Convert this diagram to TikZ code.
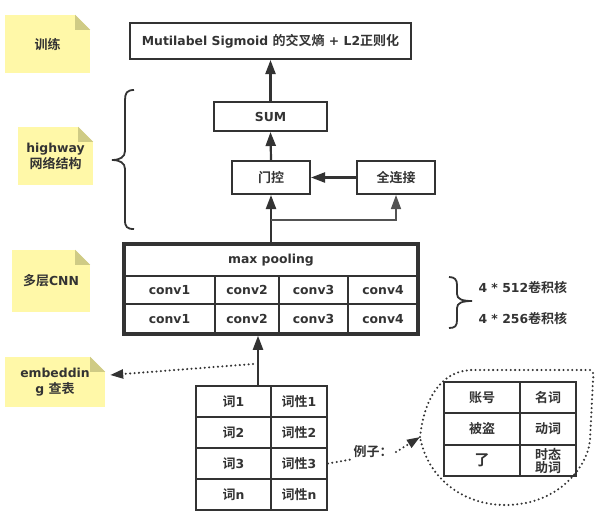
\documentclass[tikz,border=0pt]{standalone}
\usepackage{fontspec}
\setmainfont{DejaVu Sans}
\newfontfamily\cjk{Noto Sans CJK SC}[BoldFont={* Bold}]
\newcommand\zh[1]{{\cjk\fontsize{13}{16}\selectfont #1}}
\usetikzlibrary{arrows.meta}
\definecolor{ink}{HTML}{333333}
\definecolor{noteY}{HTML}{FFF8A8}
\definecolor{noteF}{HTML}{CFCB85}
\tikzset{
  txt/.style={text=ink, font=\fontsize{12.4}{16}\selectfont\bfseries, align=center},
  box/.style={txt, draw=ink, line width=2pt, fill=white, inner sep=0pt},
  cell/.style={txt, draw=ink, line width=2pt, inner sep=0pt},
  note/.style={txt, fill=noteY, inner sep=0pt},
  arr/.style={draw=ink, line width=2.2pt, -{Triangle[length=14pt,width=10pt]}},
  branch/.style={draw=ink!85, line width=1.5pt, -{Triangle[length=14pt,width=10pt]}},
  dots/.style={draw=ink, line width=2.3pt, dash pattern=on 0pt off 4.4pt, line cap=round},
  dotarr/.style={dots, -{Triangle[length=13pt,width=9pt]}},
  brace/.style={draw=ink, line width=1.8pt},
}
\newcommand\fold[1]{%
  \fill[white] (#1.north east) -- ++(-15,0) -- ++(15,15) -- cycle;
  \fill[noteF] (#1.north east) ++(-15,0) -- ++(15,15) -- ++(-15,0) -- cycle;}
\begin{document}
\begin{tikzpicture}[x=1pt,y=-1pt]
\useasboundingbox[fill=white] (0,0) rectangle (607,523);

% notes
\node[note, minimum width=85, minimum height=58] (ntrain) at (47.5,44) {\zh{训练}};
\fold{ntrain}
\node[note, minimum width=75, minimum height=58] (nhw) at (55.5,156) {highway\\\zh{网络结构}};
\fold{nhw}
\node[note, minimum width=78, minimum height=62] (ncnn) at (51,281) {\zh{多层}CNN};
\fold{ncnn}
\node[note, minimum width=100, minimum height=50] (emb) at (55,382) {embeddin\\g \zh{查表}};
\fold{emb}

% upper boxes
\node[box, minimum width=281, minimum height=36] (top) at (270.5,41) {Mutilabel Sigmoid \zh{的交叉熵} + L2\zh{正则化}};
\node[box, minimum width=113, minimum height=29] (sum) at (270.5,116.5) {SUM};
\node[box, minimum width=78, minimum height=33] (gate) at (271,177.5) {\zh{门控}};
\node[box, minimum width=78, minimum height=33] (fc) at (396,177.5) {\zh{全连接}};

% CNN table
\node[cell, minimum width=294, minimum height=32] (p) at (271,260) {max pooling};
\node[cell, minimum width=91, minimum height=28] (a1) at (169.5,290) {conv1};
\node[cell, minimum width=64, minimum height=28] (a2) at (247,290) {conv2};
\node[cell, minimum width=69, minimum height=28] (a3) at (313.5,290) {conv3};
\node[cell, minimum width=70, minimum height=28] (a4) at (383,290) {conv4};
\node[cell, minimum width=91, minimum height=30] (b1) at (169.5,319) {conv1};
\node[cell, minimum width=64, minimum height=30] (b2) at (247,319) {conv2};
\node[cell, minimum width=69, minimum height=30] (b3) at (313.5,319) {conv3};
\node[cell, minimum width=70, minimum height=30] (b4) at (383,319) {conv4};
\node[draw=ink, line width=3.5pt, minimum width=294, minimum height=90, inner sep=0pt] (cnn) at (271,289) {};

% arrows in the upper part
\draw[arr] (sum.north) -- (top.south);
\draw[arr] (gate.north) -- (sum.south);
\draw[arr] (fc.west) -- (gate.east);
\draw[arr] (cnn.north) -- (gate.south);
\coordinate (br) at (271,220);
\draw[branch] (br) -| (fc.south);

% braces
\draw[brace] (134,90) .. controls (127,90) and (125,93) .. (125,100) -- (125,151)
  .. controls (125,157) and (120,160) .. (112,160)
  .. controls (120,160) and (125,163) .. (125,169) -- (125,220)
  .. controls (125,227) and (127,229) .. (134,229);
\draw[brace] (449,277) .. controls (455,277) and (457,280) .. (457,285) -- (457,294)
  .. controls (457,299) and (462,301) .. (472,301)
  .. controls (462,301) and (457,303) .. (457,308) -- (457,320)
  .. controls (457,326) and (455,328) .. (449,328);
\node[txt, anchor=west] (k512) at (475,287) {4 * 512\zh{卷积核}};
\node[txt, anchor=west] (k256) at (475,318) {4 * 256\zh{卷积核}};

% word table
\node[cell, minimum width=75, minimum height=31] (w11) at (233.5,401.5) {\zh{词}1};
\node[cell, minimum width=56, minimum height=31] (w12) at (299,401.5) {\zh{词性}1};
\node[cell, minimum width=75, minimum height=31] (w21) at (233.5,432.5) {\zh{词}2};
\node[cell, minimum width=56, minimum height=31] (w22) at (299,432.5) {\zh{词性}2};
\node[cell, minimum width=75, minimum height=31] (w31) at (233.5,463.5) {\zh{词}3};
\node[cell, minimum width=56, minimum height=31] (w32) at (299,463.5) {\zh{词性}3};
\node[cell, minimum width=75, minimum height=31] (w41) at (233.5,494.5) {\zh{词}n};
\node[cell, minimum width=56, minimum height=31] (w42) at (299,494.5) {\zh{词性}n};

\coordinate (wtop) at (258,386);
\draw[arr] (wtop) -- (wtop |- cnn.south);
\coordinate (embsrc) at (253,364);
\draw[dotarr] (embsrc) -- ([shift={(5,-7)}]emb.east);

% example
\node[txt] (ex) at (373,452) {\zh{例子：}};
\draw[dots] (w32.east) -- ([yshift=2pt]ex.south west);
\coordinate (cl) at (420,437);
\draw[dotarr] (ex.east) -- (cl);
\draw[dots] (cl) .. controls (424,400) and (440,372) .. (470,370) -- (590,370)
  .. controls (593,371) and (594,374) .. (593,380) -- (590,440)
  .. controls (588,465) and (560,505) .. (505,505)
  .. controls (465,505) and (428,480) .. (cl);

\node[cell, minimum width=76, minimum height=31] (e11) at (482,397.5) {\zh{账号}};
\node[cell, minimum width=56, minimum height=31] (e12) at (548,397.5) {\zh{名词}};
\node[cell, minimum width=76, minimum height=32] (e21) at (482,429) {\zh{被盗}};
\node[cell, minimum width=56, minimum height=32] (e22) at (548,429) {\zh{动词}};
\node[cell, minimum width=76, minimum height=31] (e31) at (482,460.5) {{\cjk\fontsize{15}{16}\selectfont 了}};
\node[cell, minimum width=56, minimum height=31, font=\fontsize{12}{13}\selectfont\bfseries] (e32) at (548,460.5) {{\cjk\fontsize{13}{14}\selectfont 时态}\\{\cjk\fontsize{13}{14}\selectfont 助词}};
\end{tikzpicture}
\end{document}
